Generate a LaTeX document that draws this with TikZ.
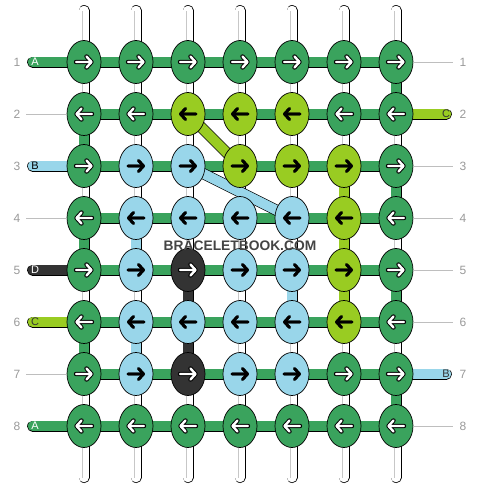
\documentclass[tikz,border=0pt]{standalone}
\usepackage{fontspec}
\setmainfont{Liberation Sans}
\usetikzlibrary{shapes.geometric,backgrounds}
\definecolor{colA}{RGB}{58,163,93}
\definecolor{colB}{RGB}{153,214,234}
\definecolor{colC}{RGB}{153,204,34}
\definecolor{colD}{RGB}{51,51,51}
\definecolor{numgray}{RGB}{153,153,153}
\definecolor{linegray}{RGB}{190,190,190}
\definecolor{wmgray}{RGB}{68,68,68}
\newcommand{\knotarrow}[4]{%
  \begin{scope}[shift={(path picture bounding box.center)}, line cap=round, line join=round]
    \draw[line width=#2, black] ({-8*#1},0) -- ({7.5*#1},0) ({2.5*#1},-5.5) -- ({7.5*#1},0) -- ({2.5*#1},5.5);
    \draw[line width=#3, #4] ({-8*#1},0) -- ({7.5*#1},0) ({2.5*#1},-5.5) -- ({7.5*#1},0) -- ({2.5*#1},5.5);
  \end{scope}}
\tikzset{
  knot/.style={ellipse, draw=black, line width=0.7pt, minimum width=34pt, minimum height=43pt, inner sep=0pt},
  kA/.style={knot, fill=colA},
  kB/.style={knot, fill=colB},
  kC/.style={knot, fill=colC},
  kD/.style={knot, fill=colD},
  wR/.style={path picture={\knotarrow{1}{4.4pt}{2.4pt}{white}}},
  wL/.style={path picture={\knotarrow{-1}{4.4pt}{2.4pt}{white}}},
  bR/.style={path picture={\knotarrow{1}{2.8pt}{2.8pt}{black}}},
  bL/.style={path picture={\knotarrow{-1}{2.8pt}{2.8pt}{black}}},
  band/.style={double=#1, double distance=9.8pt, line width=0.6pt, line cap=round},
  basestr/.style={double=white, double distance=9.6pt, line width=0.7pt, line cap=round},
  strcore/.style={double=white, double distance=3pt, line width=0.5pt, draw=black!22},
  rowline/.style={draw=linegray, line width=0.8pt},
  rownum/.style={text=numgray, font=\fontsize{12}{13}\selectfont, inner sep=0pt},
  tag/.style={font=\fontsize{11}{12}\selectfont, inner sep=0pt},
}
\begin{document}
\begin{tikzpicture}[x=1pt,y=-1pt]
\useasboundingbox (0,0) rectangle (480,488);
\node [kA, wR] (k11) at (84,62) {};
\node [kA, wR] (k12) at (136,62) {};
\node [kA, wR] (k13) at (188,62) {};
\node [kA, wR] (k14) at (240,62) {};
\node [kA, wR] (k15) at (292,62) {};
\node [kA, wR] (k16) at (344,62) {};
\node [kA, wR] (k17) at (396,62) {};
\node [kA, wL] (k21) at (84,114) {};
\node [kA, wL] (k22) at (136,114) {};
\node [kC, bL] (k23) at (188,114) {};
\node [kC, bL] (k24) at (240,114) {};
\node [kC, bL] (k25) at (292,114) {};
\node [kA, wL] (k26) at (344,114) {};
\node [kA, wL] (k27) at (396,114) {};
\node [kA, wR] (k31) at (84,166) {};
\node [kB, bR] (k32) at (136,166) {};
\node [kB, bR] (k33) at (188,166) {};
\node [kC, bR] (k34) at (240,166) {};
\node [kC, bR] (k35) at (292,166) {};
\node [kC, bR] (k36) at (344,166) {};
\node [kA, wR] (k37) at (396,166) {};
\node [kA, wL] (k41) at (84,218) {};
\node [kB, bL] (k42) at (136,218) {};
\node [kB, bL] (k43) at (188,218) {};
\node [kB, bL] (k44) at (240,218) {};
\node [kB, bL] (k45) at (292,218) {};
\node [kC, bL] (k46) at (344,218) {};
\node [kA, wL] (k47) at (396,218) {};
\node [kA, wR] (k51) at (84,270) {};
\node [kB, bR] (k52) at (136,270) {};
\node [kD, wR] (k53) at (188,270) {};
\node [kB, bR] (k54) at (240,270) {};
\node [kB, bR] (k55) at (292,270) {};
\node [kC, bR] (k56) at (344,270) {};
\node [kA, wR] (k57) at (396,270) {};
\node [kA, wL] (k61) at (84,322) {};
\node [kB, bL] (k62) at (136,322) {};
\node [kB, bL] (k63) at (188,322) {};
\node [kB, bL] (k64) at (240,322) {};
\node [kB, bL] (k65) at (292,322) {};
\node [kC, bL] (k66) at (344,322) {};
\node [kA, wL] (k67) at (396,322) {};
\node [kA, wR] (k71) at (84,374) {};
\node [kB, bR] (k72) at (136,374) {};
\node [kD, wR] (k73) at (188,374) {};
\node [kB, bR] (k74) at (240,374) {};
\node [kB, bR] (k75) at (292,374) {};
\node [kA, wR] (k76) at (344,374) {};
\node [kA, wR] (k77) at (396,374) {};
\node [kA, wL] (k81) at (84,426) {};
\node [kA, wL] (k82) at (136,426) {};
\node [kA, wL] (k83) at (188,426) {};
\node [kA, wL] (k84) at (240,426) {};
\node [kA, wL] (k85) at (292,426) {};
\node [kA, wL] (k86) at (344,426) {};
\node [kA, wL] (k87) at (396,426) {};
\coordinate (t1) at (84,10.5);
\coordinate (t2) at (136,10.5);
\coordinate (t3) at (188,10.5);
\coordinate (t4) at (240,10.5);
\coordinate (t5) at (292,10.5);
\coordinate (t6) at (344,10.5);
\coordinate (t7) at (396,10.5);
\coordinate (b1) at (84,477.5);
\coordinate (b2) at (136,477.5);
\coordinate (b3) at (188,477.5);
\coordinate (b4) at (240,477.5);
\coordinate (b5) at (292,477.5);
\coordinate (b6) at (344,477.5);
\coordinate (b7) at (396,477.5);
\coordinate (sl1) at (32.6,62);
\coordinate (sl3) at (32.6,166);
\coordinate (sl5) at (32.6,270);
\coordinate (sl6) at (32.6,322);
\coordinate (sl8) at (32.6,426);
\coordinate (sr2) at (446.4,114);
\coordinate (sr7) at (446.4,374);
\begin{scope}[on background layer]
\draw [basestr] (t1) -- (b1);
\draw [basestr] (t2) -- (b2);
\draw [basestr] (t3) -- (b3);
\draw [basestr] (t4) -- (b4);
\draw [basestr] (t5) -- (b5);
\draw [basestr] (t6) -- (b6);
\draw [basestr] (t7) -- (b7);
\draw [strcore] (t1) -- (b1);
\draw [strcore] (t2) -- (b2);
\draw [strcore] (t3) -- (b3);
\draw [strcore] (t4) -- (b4);
\draw [strcore] (t5) -- (b5);
\draw [strcore] (t6) -- (b6);
\draw [strcore] (t7) -- (b7);
\draw [band=colA] (k17.center) -- (k27.center);
\draw [band=colA] (k37.center) -- (k47.center);
\draw [band=colA] (k57.center) -- (k67.center);
\draw [band=colA] (k77.center) -- (k87.center);
\draw [band=colA] (k21.center) -- (k31.center);
\draw [band=colA] (k41.center) -- (k51.center);
\draw [band=colA] (k61.center) -- (k71.center);
\draw [band=colB] (k42.center) -- (k52.center);
\draw [band=colB] (k62.center) -- (k72.center);
\draw [band=colB] (k55.center) -- (k65.center);
\draw [band=colC] (k36.center) -- (k66.center);
\draw [band=colD] (k53.center) -- (k73.center);
\draw [band=colA] (k11.center) -- (k17.center);
\draw [band=colA] (k21.center) -- (k27.center);
\draw [band=colA] (k31.center) -- (k37.center);
\draw [band=colA] (k41.center) -- (k47.center);
\draw [band=colA] (k51.center) -- (k57.center);
\draw [band=colA] (k61.center) -- (k67.center);
\draw [band=colA] (k71.center) -- (k77.center);
\draw [band=colA] (k81.center) -- (k87.center);
\draw [band=colC] (k23.center) -- (k34.center);
\draw [band=colB] (k33.center) -- (k45.center);
\draw [band=colA] (sl1) -- (k11.center);
\draw [band=colB] (sl3) -- (k31.center);
\draw [band=colD] (sl5) -- (k51.center);
\draw [band=colC] (sl6) -- (k61.center);
\draw [band=colA] (sl8) -- (k81.center);
\draw [band=colC] (sr2) -- (k27.center);
\draw [band=colB] (sr7) -- (k77.center);
\end{scope}
\node [tag, text=white] (la1) at (35,62) {A};
\node [tag, text=black] (la3) at (35,166) {B};
\node [tag, text=white] (la5) at (35,270) {D};
\node [tag, text=colD] (la6) at (35,322) {C};
\node [tag, text=white] (la8) at (35,426) {A};
\node [tag, text=colD] (ra2) at (446,114) {C};
\node [tag, text=colD] (ra7) at (446,374) {B};
\coordinate (gl2) at (26,114);
\coordinate (gl4) at (26,218);
\coordinate (gl7) at (26,374);
\coordinate (gr1) at (453,62);
\coordinate (gr3) at (453,166);
\coordinate (gr4) at (453,218);
\coordinate (gr5) at (453,270);
\coordinate (gr6) at (453,322);
\coordinate (gr8) at (453,426);
\draw [rowline] (gl2) -- (k21.west);
\draw [rowline] (gl4) -- (k41.west);
\draw [rowline] (gl7) -- (k71.west);
\draw [rowline] (k17.east) -- (gr1);
\draw [rowline] (k37.east) -- (gr3);
\draw [rowline] (k47.east) -- (gr4);
\draw [rowline] (k57.east) -- (gr5);
\draw [rowline] (k67.east) -- (gr6);
\draw [rowline] (k87.east) -- (gr8);
\node [rownum] (nl1) at (17,62) {1};
\node [rownum] (nl2) at (17,114) {2};
\node [rownum] (nl3) at (17,166) {3};
\node [rownum] (nl4) at (17,218) {4};
\node [rownum] (nl5) at (17,270) {5};
\node [rownum] (nl6) at (17,322) {6};
\node [rownum] (nl7) at (17,374) {7};
\node [rownum] (nl8) at (17,426) {8};
\node [rownum] (nr1) at (463,62) {1};
\node [rownum] (nr2) at (463,114) {2};
\node [rownum] (nr3) at (463,166) {3};
\node [rownum] (nr4) at (463,218) {4};
\node [rownum] (nr5) at (463,270) {5};
\node [rownum] (nr6) at (463,322) {6};
\node [rownum] (nr7) at (463,374) {7};
\node [rownum] (nr8) at (463,426) {8};
\node [text=wmgray, font=\fontsize{13.8}{14}\selectfont\bfseries, inner sep=0pt] (wm) at (240,245.6) {BRACELETBOOK.COM};
\end{tikzpicture}
\end{document}
